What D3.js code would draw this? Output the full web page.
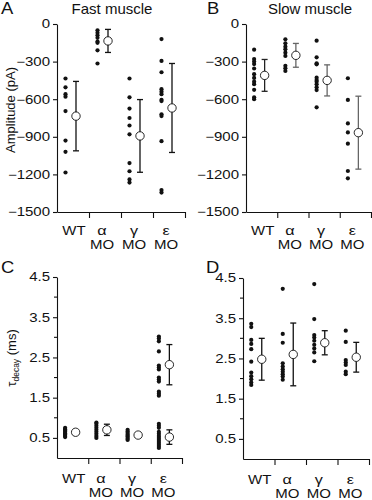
<!DOCTYPE html>
<html>
<head>
<meta charset="utf-8">
<script src="https://cdn.jsdelivr.net/npm/d3@7"></script>
<style>
  body { margin: 0; background: #fff; }
  text { font-family: "Liberation Sans", Arial, sans-serif; fill: #111; }
</style>
</head>
<body>
<svg id="fig" width="372" height="500"></svg>
<script>
// categories and tick labels
const categories = ["WT", "α", "γ", "ε"];
const subLabels = ["", "MO", "MO", "MO"];
const ampTicks = [0, -300, -600, -900, -1200, -1500];
const tauTicks = [0.5, 1.5, 2.5, 3.5, 4.5];
const tauMinorTicks = [1, 2, 3, 4];

// A: fast muscle amplitude (pA)
const ampFastDots = [
  [-435, -505, -560, -580, -695, -930, -1020, -1185],
  [-50, -70, -90, -110, -140, -150, -210, -315],
  [-435, -585, -675, -750, -810, -880, -1110, -1175, -1240, -1265],
  [-120, -295, -385, -520, -540, -560, -605, -615, -720, -735, -935, -1325, -1345]
];
const ampFastMean = [-735, -135, -893, -670];
const ampFastSD = [277, 92, 290, 355];

// B: slow muscle amplitude (pA)
const ampSlowDots = [
  [-205, -280, -300, -320, -355, -400, -430, -460, -480, -525, -585, -600],
  [-122, -154, -181, -202, -229, -255, -333, -354, -375],
  [-133, -266, -314, -322, -428, -447, -460, -481, -505, -527, -665],
  [-433, -606, -793, -865, -955, -1173, -1231]
];
const ampSlowMean = [-410, -250, -450, -867];
const ampSlowSD = [127, 95, 124, 291];

// C: fast muscle tau decay (ms) - epsilon MO has two populations
const tauFastDots = [
  [0.52, 0.55, 0.58, 0.6, 0.62, 0.65, 0.68, 0.7, 0.72, 0.75],
  [0.5, 0.55, 0.6, 0.65, 0.7, 0.75, 0.8, 0.85, 0.88],
  [0.45, 0.48, 0.52, 0.55, 0.58, 0.62, 0.66, 0.7],
  [3.02, 2.97, 2.9, 2.65, 2.3, 2.25, 2.2, 2.0, 1.95, 1.9, 1.65, 1.6, 1.55,
   0.85, 0.8, 0.75, 0.65, 0.6, 0.55, 0.5, 0.45, 0.4, 0.35, 0.3, 0.25]
];
const tauFastMean = [[0.64], [0.70], [0.57], [2.32, 0.52]];
const tauFastSD = [[0.06], [0.14], [0.05], [0.5, 0.18]];

// D: slow muscle tau decay (ms)
const tauSlowDots = [
  [3.36, 3.28, 2.96, 2.86, 2.73, 2.42, 2.15, 2.06, 1.98, 1.9, 1.84],
  [4.23, 3.11, 2.89, 2.38, 2.3, 2.23, 2.17, 2.11, 2.05, 1.97],
  [4.35, 3.48, 3.08, 3.02, 2.94, 2.84, 2.75, 2.65, 2.43],
  [3.19, 2.91, 2.46, 2.4, 2.34, 2.17, 2.11]
];
const tauSlowMean = [2.48, 2.6, 2.89, 2.53];
const tauSlowSD = [0.52, 0.78, 0.3, 0.37];

const svg = d3.select("#fig");
const stretch = 1.25; // the figure's text is wide

function panel(o) {
  const g = svg.append("g");
  const x = d3.scaleBand().domain(categories).range([o.x0, o.x1]);
  const bw = x.bandwidth();
  const y = d3.scaleLinear().domain(o.domain).range([o.yBottom, o.yTop]);

  // y axis
  const ya = g.append("g").attr("transform", `translate(${o.x0},0)`)
    .call(d3.axisLeft(y).tickValues(o.ticks).tickSize(4).tickSizeOuter(0)
      .tickPadding(3).tickFormat(o.fmt));
  if (o.minor) {
    ya.selectAll(".minor").data(o.minor).enter().append("line")
      .attr("x2", -3).attr("y1", d => y(d)).attr("y2", d => y(d));
  }
  ya.selectAll("text").attr("font-size", 12).attr("font-family", null)
    .attr("x", -7 / stretch).attr("transform", `scale(${stretch},1)`);
  ya.selectAll("path, line").attr("stroke", "#111").attr("stroke-width", 1.1);

  // x axis with ticks at group boundaries
  const xb = d3.scaleLinear().domain([0, categories.length]).range([o.x0, o.x1]);
  const xa = g.append("g").attr("transform", `translate(0,${o.yBottom})`)
    .call(d3.axisBottom(xb).tickValues([1, 2, 3, 4]).tickSize(6).tickSizeOuter(0).tickFormat(""));
  xa.selectAll("path, line").attr("stroke", "#111").attr("stroke-width", 1.1);

  // category labels
  categories.forEach((c, i) => {
    const cx = x(c) + bw / 2 + (i === 0 ? 1 : -3);
    g.append("text").attr("transform", `translate(${cx},${o.yBottom + o.labelGap}) scale(1.2,1)`)
      .attr("text-anchor", "middle").attr("font-size", i === 0 ? 12.5 : 13.5).text(c);
    if (subLabels[i]) {
      g.append("text").attr("transform", `translate(${cx},${o.yBottom + o.labelGap + 13.5}) scale(1.2,1)`)
        .attr("text-anchor", "middle").attr("font-size", 12.5).text(subLabels[i]);
    }
  });

  // individual values
  categories.forEach((c, i) => {
    g.selectAll(null).data(o.dots[i]).enter().append("circle")
      .attr("cx", x(c) + bw / 2 - 7.5)
      .attr("cy", d => y(d))
      .attr("r", 2.1)
      .attr("fill", "#111");
  });

  // mean +- SD
  categories.forEach((c, i) => {
    const ms = [].concat(o.means[i]);
    const sds = [].concat(o.sds[i]);
    const mx = x(c) + bw / 2 + 3;
    const col = o.barColors[i];
    ms.forEach((m, j) => {
      const top = y(m + sds[j]), bot = y(m - sds[j]);
      g.append("line").attr("x1", mx).attr("x2", mx).attr("y1", top).attr("y2", bot)
        .attr("stroke", col).attr("stroke-width", 1.3);
      [top, bot].forEach(yy => {
        g.append("line").attr("x1", mx - 3).attr("x2", mx + 3).attr("y1", yy).attr("y2", yy)
          .attr("stroke", col).attr("stroke-width", 1.3);
      });
      g.append("circle").attr("cx", mx).attr("cy", y(m)).attr("r", 4.2)
        .attr("fill", "#fff").attr("stroke", "#111").attr("stroke-width", 0.9);
    });
  });

  // panel letter and title
  svg.append("text").attr("transform", `translate(${o.letterX},${o.letterY}) scale(1.15,1)`)
    .attr("font-size", 16).text(o.letter);
  if (o.title) {
    svg.append("text").attr("x", o.titleX).attr("y", 13.5)
      .attr("text-anchor", "middle").attr("font-size", 15).text(o.title);
  }
}

const ampFmt = d3.format("d");
const tauFmt = d3.format(".1f");

panel({ letter: "A", letterX: 1, letterY: 14, title: "Fast muscle", titleX: 112,
  x0: 57, x1: 185, yTop: 24, yBottom: 212, domain: [-1500, 0],
  ticks: ampTicks, fmt: ampFmt, labelGap: 23,
  dots: ampFastDots, means: ampFastMean, sds: ampFastSD,
  barColors: ["#111", "#111", "#111", "#111"] });

panel({ letter: "B", letterX: 207, letterY: 14, title: "Slow muscle", titleX: 310,
  x0: 246, x1: 371, yTop: 24, yBottom: 212, domain: [-1500, 0],
  ticks: ampTicks, fmt: ampFmt, labelGap: 23,
  dots: ampSlowDots, means: ampSlowMean, sds: ampSlowSD,
  barColors: ["#222", "#666", "#666", "#666"] });

panel({ letter: "C", letterX: 1, letterY: 273,
  x0: 57, x1: 182, yTop: 277, yBottom: 458, domain: [0, 4.5],
  ticks: tauTicks, minor: tauMinorTicks, fmt: tauFmt, labelGap: 25,
  dots: tauFastDots, means: tauFastMean, sds: tauFastSD,
  barColors: ["#111", "#111", "#111", "#111"] });

panel({ letter: "D", letterX: 206, letterY: 273,
  x0: 243, x1: 369, yTop: 278, yBottom: 459, domain: [0, 4.5],
  ticks: tauTicks, minor: tauMinorTicks, fmt: tauFmt, labelGap: 25,
  dots: tauSlowDots, means: tauSlowMean, sds: tauSlowSD,
  barColors: ["#111", "#111", "#111", "#111"] });

// y axis titles
svg.append("text").attr("transform", "translate(15,110) rotate(-90)")
  .attr("text-anchor", "middle").attr("font-size", 13).text("Amplitude (pA)");

const tau = svg.append("text").attr("transform", "translate(16,358) rotate(-90)")
  .attr("text-anchor", "middle").attr("font-size", 13);
tau.append("tspan").text("τ");
tau.append("tspan").attr("font-size", 8.5).attr("dy", 3).text("decay");
tau.append("tspan").attr("dy", -3).text(" (ms)");
</script>
</body>
</html>
